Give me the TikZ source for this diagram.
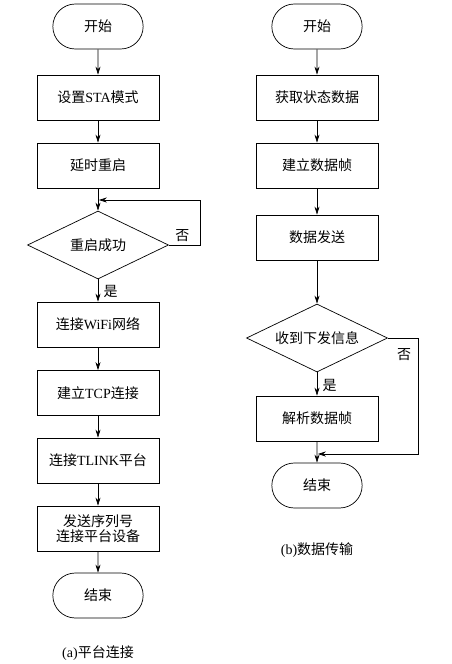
\documentclass[tikz,border=0pt]{standalone}
\usepackage{fontspec}
\setmainfont{Liberation Serif}
\newfontfamily\cjk{Noto Sans CJK SC}
\usetikzlibrary{shapes.geometric,shapes.misc,arrows.meta}

\tikzset{
    termbox/.style={draw, rounded rectangle, minimum width=97pt, minimum height=45pt},
    stepbox/.style={draw, rectangle, minimum width=122pt, minimum height=45pt, align=center},
    testbox/.style={draw, diamond, aspect=2.07, minimum width=141pt, minimum height=68pt, inner sep=0pt},
    flow/.style={-{Stealth[length=8pt, width=5pt]}, draw=black},
}

\begin{document}
\begin{tikzpicture}[x=1pt, y=-1pt, line width=0.7pt, font=\fontsize{14}{17}\selectfont]
    % Fix size of picture
    \useasboundingbox (0,0) rectangle (451,664);

    % Define columns
    \def\Lx{98};
    \def\Rx{317};

    % Draw platform connection chart
    \node[termbox] (startA) at (\Lx,26.5) {\cjk 开始};
    \node[stepbox] (sta) at (\Lx,97.5) {{\cjk 设置}STA{\cjk 模式}};
    \node[stepbox] (reboot) at (\Lx,165.5) {\cjk 延时重启};
    \node[testbox] (ok) at (\Lx,245) {\cjk 重启成功};
    \node[stepbox] (wifi) at (\Lx,324.5) {{\cjk 连接}WiFi{\cjk 网络}};
    \node[stepbox] (tcp) at (\Lx,393) {{\cjk 建立}TCP{\cjk 连接}};
    \node[stepbox] (tlink) at (\Lx,460.5) {{\cjk 连接}TLINK{\cjk 平台}};
    \node[stepbox, inner sep=1pt] (serial) at (\Lx,528.5) {\cjk 发送序列号\\[-2pt]\cjk 连接平台设备};
    \node[termbox] (endA) at (\Lx,595.5) {\cjk 结束};
    \node (capA) at (\Lx,653) {(a){\cjk 平台连接}};

    \draw[flow] (startA) -- (sta);
    \draw[flow] (sta) -- (reboot);
    \draw[flow] (reboot) -- (ok);
    \draw[flow] (ok) -- node[right, xshift=2pt, yshift=-1pt]{\cjk 是} (wifi);
    \draw[flow] (wifi) -- (tcp);
    \draw[flow] (tcp) -- (tlink);
    \draw[flow] (tlink) -- (serial);
    \draw[flow] (serial) -- (endA);

    % Draw retry loop
    \coordinate (backA) at (\Lx,200);
    \draw[flow] (ok.east) -- node[above, xshift=-2pt]{\cjk 否} ++(31,0) |- ([xshift=0.8pt]backA);

    % Draw data transfer chart
    \node[termbox] (startB) at (\Rx,26.5) {\cjk 开始};
    \node[stepbox] (fetch) at (\Rx,97.5) {\cjk 获取状态数据};
    \node[stepbox] (frame) at (\Rx,165.5) {\cjk 建立数据帧};
    \node[stepbox] (send) at (\Rx,237.5) {\cjk 数据发送};
    \node[testbox, aspect=2] (recv) at (\Rx,338) {\cjk 收到下发信息};
    \node[stepbox] (parse) at (\Rx,418.5) {\cjk 解析数据帧};
    \node[termbox] (endB) at (\Rx,485.5) {\cjk 结束};
    \node (capB) at (\Rx,550) {(b){\cjk 数据传输}};

    \draw[flow] (startB) -- (fetch);
    \draw[flow] (fetch) -- (frame);
    \draw[flow] (frame) -- (send);
    \draw[flow] (send) -- (recv);
    \draw[flow] (recv) -- node[right, xshift=2pt, yshift=-1pt]{\cjk 是} (parse);
    \draw[flow] (parse) -- (endB);

    % Draw skip branch
    \coordinate (backB) at (\Rx,454);
    \draw[flow] (recv.east) -- ++(30,0) node[below left, xshift=-3pt, yshift=-7pt]{\cjk 否} |- ([xshift=0.8pt]backB);

\end{tikzpicture}
\end{document}
